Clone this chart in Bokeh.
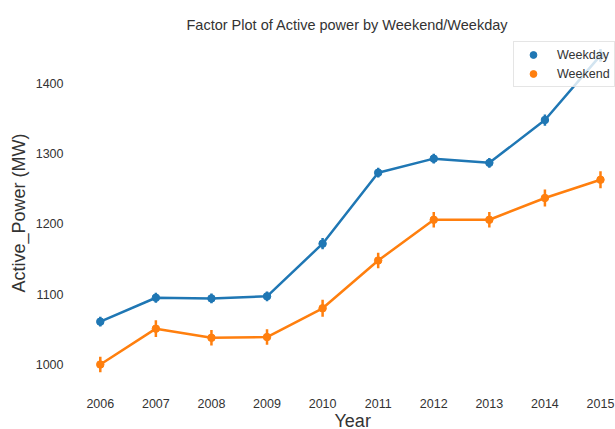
from bokeh.plotting import figure
from bokeh.models import ColumnDataSource, FixedTicker, Legend, LegendItem, Title
from bokeh.embed import file_html
from bokeh.resources import INLINE

# Mean active power per year, split by day type, with confidence half-widths
years = [2006, 2007, 2008, 2009, 2010, 2011, 2012, 2013, 2014, 2015]
weekday = [1061, 1095, 1094, 1097, 1172, 1273, 1293, 1287, 1348, 1440]
weekday_err = [7, 7, 7, 7, 8, 7, 7, 7, 8, 9]
weekend = [1000, 1051, 1038, 1039, 1080, 1148, 1206, 1206, 1237, 1263]
weekend_err = [11, 12, 11, 11, 12, 11, 11, 11, 12, 12]
y_ticks = [1000, 1100, 1200, 1300, 1400]

BLUE = "#1f77b4"
ORANGE = "#ff7f0e"
FONT = "Liberation Sans"
TEXT = "#333333"

p = figure(
    width=615, height=429,
    x_range=(2005.5, 2015.27), y_range=(964.4, 1462.6),
    output_backend="svg", toolbar_location=None,
    min_border_left=72, min_border_right=0,
    min_border_top=39, min_border_bottom=40,
    background_fill_color="white", border_fill_color="white",
)
p.outline_line_color = None
p.xgrid.visible = False
p.ygrid.visible = False

p.title.text = "Factor Plot of Active power by Weekend/Weekday"
p.title.text_font = FONT
p.title.text_font_size = "14.5px"
p.title.text_font_style = "normal"
p.title.text_color = TEXT
p.title.align = "left"
p.title.offset = 114
p.title.standoff = 13

for ax in (p.xaxis[0], p.yaxis[0]):
    ax.axis_line_color = None
    ax.major_tick_line_color = None
    ax.minor_tick_line_color = None
    ax.major_tick_out = 0
    ax.major_tick_in = 0
    ax.major_label_text_font = FONT
    ax.major_label_text_font_size = "12.5px"
    ax.major_label_text_color = TEXT

p.xaxis.ticker = FixedTicker(ticks=years)
p.xaxis.major_label_standoff = 9
p.yaxis.ticker = FixedTicker(ticks=y_ticks)
p.yaxis.major_label_standoff = 9

# Axis titles, set outside the tick labels
p.add_layout(Title(
    text="Year", align="left", offset=262, standoff=-4,
    text_font=FONT, text_font_size="18px", text_font_style="normal",
    text_color=TEXT,
), "below")
p.add_layout(Title(
    text="Active_Power (MW)", align="left", offset=97, standoff=7,
    text_font=FONT, text_font_size="18px", text_font_style="normal",
    text_color=TEXT,
), "left")

items = []
for name, vals, errs, color in (("Weekday", weekday, weekday_err, BLUE),
                                ("Weekend", weekend, weekend_err, ORANGE)):
    src = ColumnDataSource(dict(
        x=years, y=vals,
        lo=[v - e for v, e in zip(vals, errs)],
        hi=[v + e for v, e in zip(vals, errs)],
    ))
    p.line("x", "y", source=src, line_color=color, line_width=2.5)
    p.segment("x", "lo", "x", "hi", source=src, line_color=color, line_width=2.5)
    r = p.scatter("x", "y", source=src, size=7.5, marker="circle",
                  fill_color=color, line_color=color)
    items.append(LegendItem(label=name, renderers=[r]))

legend = Legend(
    items=items, location=(441, 302),
    padding=4, margin=0, spacing=2,
    glyph_width=30, glyph_height=17, label_height=17,
    label_standoff=9,
    label_text_font=FONT, label_text_font_size="12.5px", label_text_color=TEXT,
    background_fill_color="white", background_fill_alpha=0.8,
    border_line_color="#cccccc", border_line_width=1,
)
p.add_layout(legend)

open("out.html", "w").write(file_html(p, INLINE))
